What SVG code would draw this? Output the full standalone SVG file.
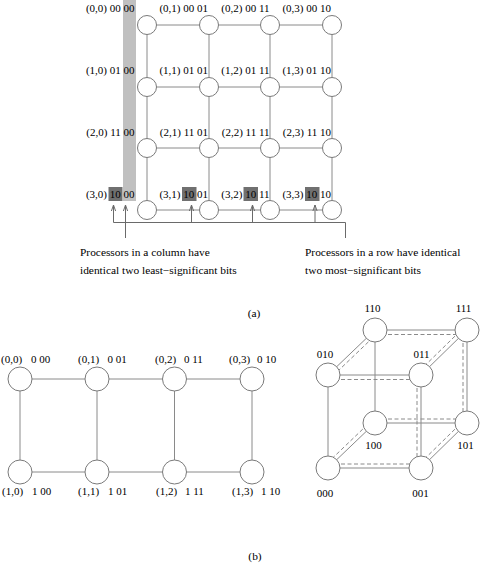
<svg xmlns="http://www.w3.org/2000/svg" width="481" height="564" viewBox="0 0 481 564">
<style>
text{font-family:"Liberation Serif","Times New Roman",serif;fill:#000}
.lbl{font-size:11px}
.cap{font-size:11.4px}
.e{stroke:#8a8a8a;stroke-width:1;fill:none}
.d{stroke:#8a8a8a;stroke-width:1;fill:none;stroke-dasharray:4 2.5}
.n{fill:#fff;stroke:#7a7a7a;stroke-width:1}
.ar{stroke:#6a6a6a;stroke-width:1;fill:none}
</style>
<defs>
<marker id="arr" viewBox="0 0 6 6" refX="6" refY="3" markerWidth="6" markerHeight="6" orient="auto" markerUnits="userSpaceOnUse">
<path d="M0,0.9 L6,3 L0,5.1" fill="none" stroke="#6a6a6a" stroke-width="1"/>
</marker>
</defs>
<!-- (a) highlight bars -->
<g id="highlights">
<rect x="123" y="0" width="13" height="201" fill="#c0c0c0"/>
<rect x="108.5" y="187" width="14" height="14" fill="#707070"/>
<rect x="182" y="187" width="14.5" height="14" fill="#707070"/>
<rect x="243.5" y="187" width="14.5" height="14" fill="#707070"/>
<rect x="305" y="187" width="14.5" height="14" fill="#707070"/>
</g>
<!-- connectors -->
<g id="connectors">
<!-- (a) mesh -->
<path class="e" d="M147,25H332M147,87H332M147,148H332M147,210H332M147,25V210M209,25V210M270,25V210M332,25V210"/>
<!-- (a) arrows -->
<path class="ar" d="M113.5,222.5H345.5V238"/>
<path class="ar" d="M113.5,222.5V205" marker-end="url(#arr)"/>
<path class="ar" d="M191.5,222.5V205" marker-end="url(#arr)"/>
<path class="ar" d="M252.5,222.5V205" marker-end="url(#arr)"/>
<path class="ar" d="M315,222.5V205" marker-end="url(#arr)"/>
<path class="ar" d="M125.5,238V205" marker-end="url(#arr)"/>
<!-- (b) mesh -->
<path class="e" d="M20,379H252M20,472H252M20,379V472M97,379V472M174.5,379V472M252,379V472"/>
<!-- hypercube solid -->
<path class="e" d="M328,375V468M375,330V423M375,330H467M328,375H421M328,468H421M375,423H467M421,375V468M467,330V423M375,330L328,375M467,330L421,375M375,423L328,468M467,423L421,468"/>
<!-- hypercube dashed -->
<path class="d" d="M375,334.5H467M328,379.5H421M328,464H421M375,419H467M417,375V468M463,330V423M377.8,332.9L330.8,377.9M464.2,327.1L418.2,372.1M372.2,420.1L325.2,465.1M464.2,420.1L418.2,465.1"/>
</g>
<!-- (a) nodes -->
<g id="a-nodes">
<g id="a00"><circle class="n" cx="147" cy="25" r="9.5"/><text class="lbl" x="134.5" y="12" text-anchor="end">(0,0) 00 00</text></g>
<g id="a01"><circle class="n" cx="209" cy="25" r="9.5"/><text class="lbl" x="208" y="12" text-anchor="end">(0,1) 00 01</text></g>
<g id="a02"><circle class="n" cx="270" cy="25" r="9.5"/><text class="lbl" x="269.5" y="12" text-anchor="end">(0,2) 00 11</text></g>
<g id="a03"><circle class="n" cx="332" cy="25" r="9.5"/><text class="lbl" x="331" y="12" text-anchor="end">(0,3) 00 10</text></g>
<g id="a10"><circle class="n" cx="147" cy="87" r="9.5"/><text class="lbl" x="134.5" y="74" text-anchor="end">(1,0) 01 00</text></g>
<g id="a11"><circle class="n" cx="209" cy="87" r="9.5"/><text class="lbl" x="208" y="74" text-anchor="end">(1,1) 01 01</text></g>
<g id="a12"><circle class="n" cx="270" cy="87" r="9.5"/><text class="lbl" x="269.5" y="74" text-anchor="end">(1,2) 01 11</text></g>
<g id="a13"><circle class="n" cx="332" cy="87" r="9.5"/><text class="lbl" x="331" y="74" text-anchor="end">(1,3) 01 10</text></g>
<g id="a20"><circle class="n" cx="147" cy="148" r="9.5"/><text class="lbl" x="134.5" y="136" text-anchor="end">(2,0) 11 00</text></g>
<g id="a21"><circle class="n" cx="209" cy="148" r="9.5"/><text class="lbl" x="208" y="136" text-anchor="end">(2,1) 11 01</text></g>
<g id="a22"><circle class="n" cx="270" cy="148" r="9.5"/><text class="lbl" x="269.5" y="136" text-anchor="end">(2,2) 11 11</text></g>
<g id="a23"><circle class="n" cx="332" cy="148" r="9.5"/><text class="lbl" x="331" y="136" text-anchor="end">(2,3) 11 10</text></g>
<g id="a30"><circle class="n" cx="147" cy="210" r="9.5"/><text class="lbl" x="134.5" y="197.5" text-anchor="end">(3,0) 10 00</text></g>
<g id="a31"><circle class="n" cx="209" cy="210" r="9.5"/><text class="lbl" x="208" y="197.5" text-anchor="end">(3,1) 10 01</text></g>
<g id="a32"><circle class="n" cx="270" cy="210" r="9.5"/><text class="lbl" x="269.5" y="197.5" text-anchor="end">(3,2) 10 11</text></g>
<g id="a33"><circle class="n" cx="332" cy="210" r="9.5"/><text class="lbl" x="331" y="197.5" text-anchor="end">(3,3) 10 10</text></g>
</g>
<g id="captions">
<text class="cap" x="80" y="256">Processors in a column have</text>
<text class="cap" x="80" y="274">identical two least−significant bits</text>
<text class="cap" x="305" y="256">Processors in a row have identical</text>
<text class="cap" x="305" y="274">two most−significant bits</text>
<text class="cap" x="254" y="317" text-anchor="middle">(a)</text>
<text class="cap" x="255" y="560" text-anchor="middle">(b)</text>
</g>
<!-- (b) mesh nodes -->
<g id="b-nodes">
<g id="b00"><circle class="n" cx="20" cy="379" r="12"/><text class="lbl" x="1" y="363">(0,0)</text><text class="lbl" x="31" y="363">0 00</text></g>
<g id="b01"><circle class="n" cx="97" cy="379" r="12"/><text class="lbl" x="78" y="363">(0,1)</text><text class="lbl" x="107.5" y="363">0 01</text></g>
<g id="b02"><circle class="n" cx="174.5" cy="379" r="12"/><text class="lbl" x="155" y="363">(0,2)</text><text class="lbl" x="184" y="363">0 11</text></g>
<g id="b03"><circle class="n" cx="252" cy="379" r="12"/><text class="lbl" x="229" y="363">(0,3)</text><text class="lbl" x="257" y="363">0 10</text></g>
<g id="b10"><circle class="n" cx="20" cy="472" r="12"/><text class="lbl" x="2" y="495">(1,0)</text><text class="lbl" x="32" y="495">1 00</text></g>
<g id="b11"><circle class="n" cx="97" cy="472" r="12"/><text class="lbl" x="78" y="495">(1,1)</text><text class="lbl" x="108" y="495">1 01</text></g>
<g id="b12"><circle class="n" cx="174.5" cy="472" r="12"/><text class="lbl" x="156" y="495">(1,2)</text><text class="lbl" x="185" y="495">1 11</text></g>
<g id="b13"><circle class="n" cx="252" cy="472" r="12"/><text class="lbl" x="232" y="495">(1,3)</text><text class="lbl" x="261" y="495">1 10</text></g>
</g>
<!-- hypercube nodes -->
<g id="cube-nodes">
<g id="h110"><circle class="n" cx="375" cy="330" r="12"/><text class="lbl" x="372.5" y="312" text-anchor="middle">110</text></g>
<g id="h111"><circle class="n" cx="467" cy="330" r="12"/><text class="lbl" x="463.5" y="312" text-anchor="middle">111</text></g>
<g id="h010"><circle class="n" cx="328" cy="375" r="12"/><text class="lbl" x="325" y="358" text-anchor="middle">010</text></g>
<g id="h011"><circle class="n" cx="421" cy="375" r="12"/><text class="lbl" x="421.5" y="358" text-anchor="middle">011</text></g>
<g id="h100"><circle class="n" cx="375" cy="423" r="12"/><text class="lbl" x="373.5" y="449" text-anchor="middle">100</text></g>
<g id="h101"><circle class="n" cx="467" cy="423" r="12"/><text class="lbl" x="465.5" y="449" text-anchor="middle">101</text></g>
<g id="h000"><circle class="n" cx="328" cy="468" r="12"/><text class="lbl" x="325" y="497" text-anchor="middle">000</text></g>
<g id="h001"><circle class="n" cx="421" cy="468" r="12"/><text class="lbl" x="420.5" y="497" text-anchor="middle">001</text></g>
</g>
</svg>
